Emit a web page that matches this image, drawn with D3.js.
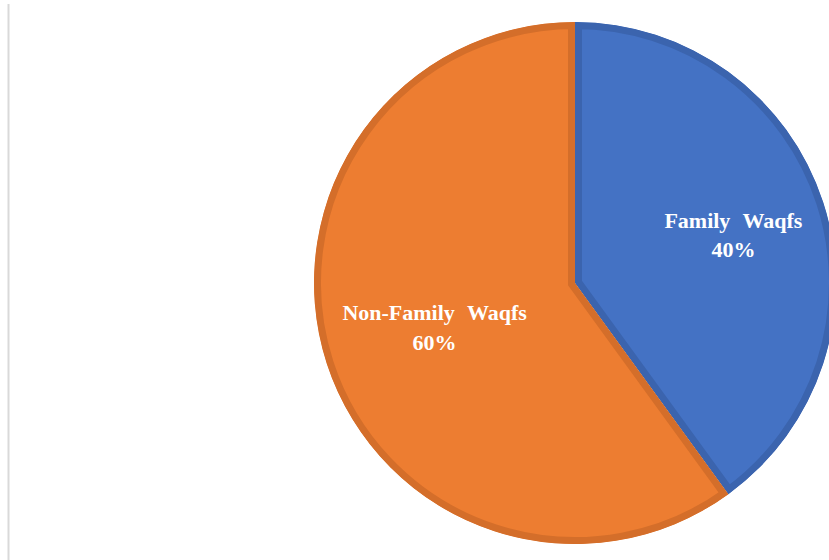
<!DOCTYPE html>
<html>
<head>
<meta charset="utf-8">
<script src="https://cdn.jsdelivr.net/npm/d3@7"></script>
<style>
  html, body { margin: 0; padding: 0; background: #fff; }
  svg { display: block; }
</style>
</head>
<body>
<svg id="chart" width="829" height="560"></svg>
<script>
// Waqf distribution by type
const categories = ["Family Waqfs", "Non-Family Waqfs"];
const values = [40, 60];
const fillColors = ["#4472C4", "#ED7D31"];
const edgeColors = ["#3B64AE", "#D46E2A"];

const svg = d3.select("#chart");
const width = 829, height = 560;

// thin frame line on the left edge
svg.append("line")
  .attr("x1", 8.5).attr("x2", 8.5)
  .attr("y1", 4).attr("y2", height)
  .attr("stroke", "#d9d9d9").attr("stroke-width", 2);

const cx = 575, cy = 283, radius = 261;

const pie = d3.pie().sort(null).value(d => d.value);
const data = pie(categories.map((c, i) => ({ category: c, value: values[i], i })));

const arc = d3.arc().innerRadius(0).outerRadius(radius);
const labelArc = d3.arc().innerRadius(radius * 0.63).outerRadius(radius * 0.63);

const g = svg.append("g").attr("transform", `translate(${cx},${cy})`);
const defs = svg.append("defs");

data.forEach((d, i) => {
  defs.append("clipPath").attr("id", "slice-clip-" + i)
    .append("path").attr("d", arc(d));
});

// each wedge: flat fill plus a darker band just inside its outline
const slices = g.selectAll("g.slice").data(data).join("g").attr("class", "slice");
slices.append("path")
  .attr("d", arc)
  .attr("fill", d => fillColors[d.data.i])
  .attr("stroke", d => edgeColors[d.data.i])
  .attr("stroke-width", 14)
  .attr("stroke-linejoin", "miter")
  .attr("clip-path", d => `url(#slice-clip-${d.data.i})`);

// labels with category and share
const labels = g.selectAll("text.label").data(data).join("text")
  .attr("class", "label")
  .attr("transform", d => {
    const [x, y] = labelArc.centroid(d);
    const nx = d.data.i === 1 ? 16 : 2;
    const ny = d.data.i === 1 ? -9 : 0;
    return `translate(${x + nx},${y + ny})`;
  })
  .attr("text-anchor", "middle")
  .attr("fill", "#ffffff")
  .style("font-family", "'Liberation Serif', 'Times New Roman', serif")
  .style("font-weight", "bold")
  .style("font-size", "22px")
  .style("word-spacing", "7px");

const total = d3.sum(values);
labels.append("tspan").attr("x", 0).attr("dy", "-0.2em").text(d => d.data.category);
labels.append("tspan").attr("x", 0).attr("dy", "1.33em")
  .text(d => Math.round(d.data.value / total * 100) + "%");
</script>
</body>
</html>
